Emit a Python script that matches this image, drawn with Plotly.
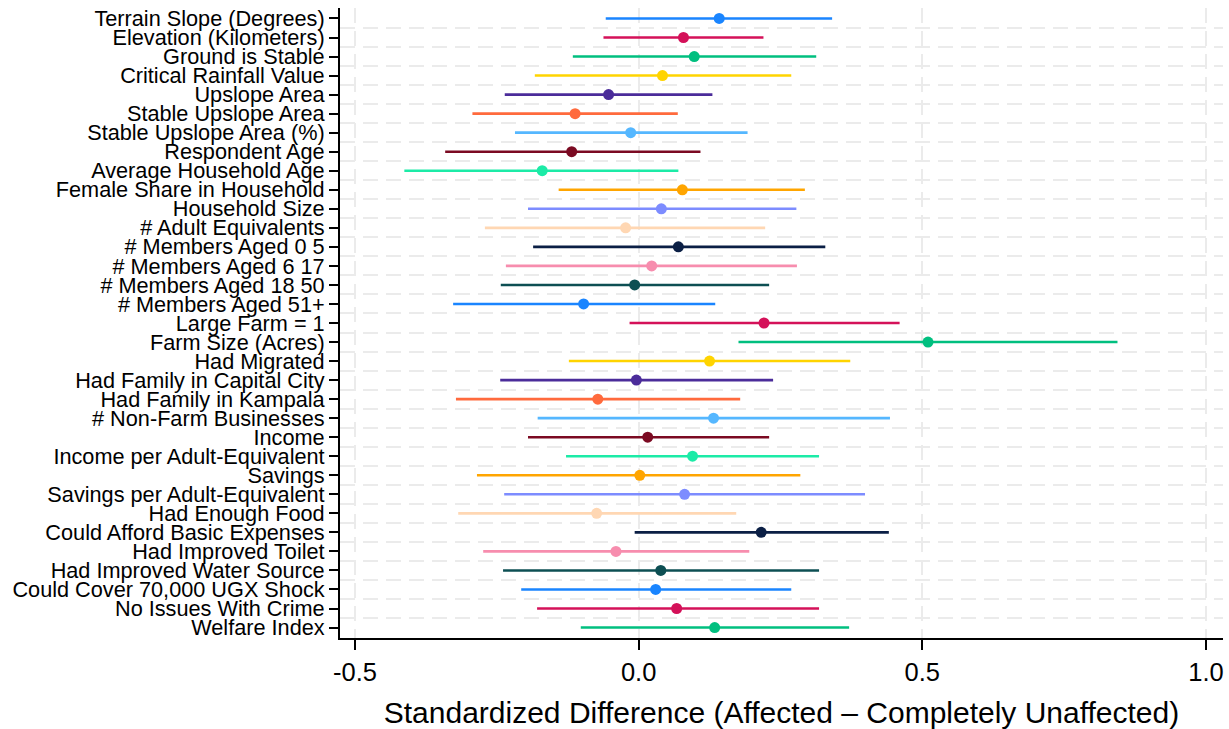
import plotly.graph_objects as go

labels = [
    "Terrain Slope (Degrees)", "Elevation (Kilometers)", "Ground is Stable",
    "Critical Rainfall Value", "Upslope Area", "Stable Upslope Area",
    "Stable Upslope Area (%)", "Respondent Age", "Average Household Age",
    "Female Share in Household", "Household Size", "# Adult Equivalents",
    "# Members Aged 0 5", "# Members Aged 6 17", "# Members Aged 18 50",
    "# Members Aged 51+", "Large Farm = 1", "Farm Size (Acres)", "Had Migrated",
    "Had Family in Capital City", "Had Family in Kampala", "# Non-Farm Businesses",
    "Income", "Income per Adult-Equivalent", "Savings",
    "Savings per Adult-Equivalent", "Had Enough Food", "Could Afford Basic Expenses",
    "Had Improved Toilet", "Had Improved Water Source",
    "Could Cover 70,000 UGX Shock", "No Issues With Crime", "Welfare Index",
]
estimate = [0.142, 0.079, 0.098, 0.042, -0.053, -0.112, -0.014, -0.118, -0.170,
            0.077, 0.040, -0.023, 0.070, 0.023, -0.007, -0.097, 0.221, 0.510,
            0.125, -0.004, -0.072, 0.132, 0.016, 0.095, 0.002, 0.081, -0.074,
            0.216, -0.040, 0.039, 0.030, 0.067, 0.134]
ci_low = [-0.058, -0.062, -0.116, -0.183, -0.236, -0.293, -0.218, -0.341, -0.413,
          -0.141, -0.195, -0.271, -0.186, -0.234, -0.243, -0.327, -0.016, 0.176,
          -0.123, -0.244, -0.322, -0.178, -0.195, -0.128, -0.285, -0.237, -0.318,
          -0.007, -0.274, -0.239, -0.207, -0.179, -0.102]
ci_high = [0.341, 0.220, 0.313, 0.269, 0.130, 0.069, 0.192, 0.109, 0.070, 0.293,
           0.278, 0.223, 0.329, 0.279, 0.230, 0.135, 0.460, 0.844, 0.373, 0.237,
           0.179, 0.443, 0.230, 0.318, 0.285, 0.399, 0.172, 0.441, 0.195, 0.318,
           0.269, 0.318, 0.371]
palette = ["#1A85FF", "#D41159", "#00BF7F", "#FFD400", "#4B2C9A", "#FF6A3D",
           "#55B7FF", "#7B0A22", "#1CEBA7", "#FFA500", "#7D8CFF", "#FFD7B3",
           "#0B1F45", "#F78DAE", "#0D4F53"]
x_ticks = [-0.5, 0.0, 0.5, 1.0]
x_ticktext = ["-0.5", "0.0", "0.5", "1.0"]

positions = list(range(1, len(labels) + 1))
colors = [palette[i % len(palette)] for i in range(len(labels))]

fig = go.Figure()
for i, pos in enumerate(positions):
    fig.add_trace(go.Scatter(
        x=[ci_low[i], ci_high[i]], y=[pos, pos], mode="lines",
        line=dict(color=colors[i], width=2.6), showlegend=False, hoverinfo="skip"))
fig.add_trace(go.Scatter(
    x=estimate, y=positions, mode="markers",
    marker=dict(color=colors, size=11, line=dict(width=0)), showlegend=False))

font = "Arial, Liberation Sans, sans-serif"
fig.update_layout(
    template="none",
    width=1229, height=729,
    margin=dict(l=340, r=6, t=8, b=91),
    plot_bgcolor="white", paper_bgcolor="white",
    font=dict(family=font, color="black"),
    xaxis=dict(
        automargin=False,
        range=[-0.5264, 1.030], tickvals=x_ticks, ticktext=x_ticktext,
        tickfont=dict(size=25.5), ticks="outside", ticklen=10, tickwidth=1.5,
        tickcolor="black", showline=True, linecolor="black", linewidth=2,
        showgrid=True, gridcolor="#EBEBEB", gridwidth=2, griddash="15px,8px",
        zeroline=False,
        title=dict(text="Standardized Difference (Affected \u2013 Completely Unaffected)",
                   font=dict(size=30), standoff=18),
    ),
    yaxis=dict(
        automargin=False,
        range=[33.55, 0.45], tickvals=positions, ticktext=labels,
        tickfont=dict(size=21.7), ticks="outside", ticklen=9, tickwidth=1.5,
        tickcolor="black", showline=True, linecolor="black", linewidth=2,
        showgrid=False, zeroline=False,
        minor=dict(tick0=0.5, dtick=1, showgrid=True, gridcolor="#EBEBEB",
                   gridwidth=2, griddash="15px,8px", ticks=""),
    ),
)
fig.write_html("out.html")
